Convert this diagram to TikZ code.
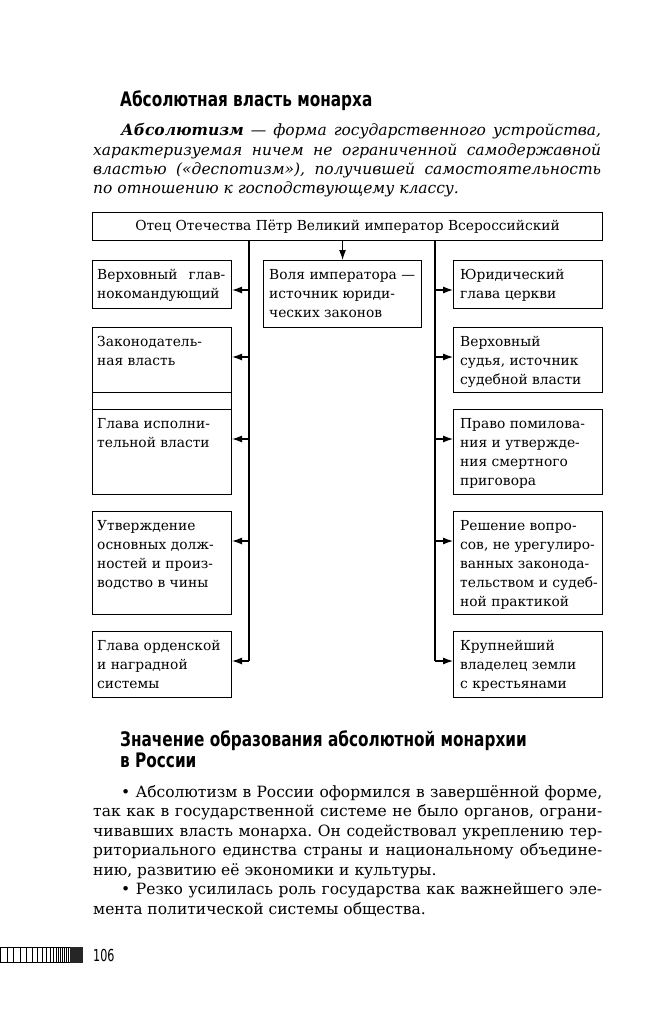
\documentclass[tikz,border=0pt]{standalone}
\usepackage{fontspec}
\setmainfont{DejaVu Serif}
\newfontfamily\hd{DejaVu Sans Condensed}[FakeStretch=0.85]
\newfontfamily\pgnum{DejaVu Sans Condensed}[FakeStretch=0.75]
\usetikzlibrary{arrows.meta,calc}
\newcommand\jline[2]{\makebox[#1pt][s]{#2}}
\frenchspacing
\begin{document}
\begin{tikzpicture}[x=1pt,y=-1pt,
  box/.style={draw, line width=1.1pt, inner sep=0pt, anchor=north west, rectangle},
  btxt/.style={anchor=base west, inner sep=0pt, font=\fontsize{13.8}{19}\selectfont},
  ptxt/.style={anchor=base west, inner sep=0pt, font=\fontsize{15.5}{19}\selectfont},
  itxt/.style={anchor=base west, inner sep=0pt, font=\fontsize{15.5}{19}\selectfont\itshape},
  head/.style={anchor=base west, inner sep=0pt, font=\hd\bfseries\fontsize{20}{21}\selectfont},
  arr/.style={line width=1.1pt, -{Latex[length=10pt,width=7pt]}},
  conn/.style={line width=1.1pt}]
\fill[white] (0,0) rectangle (660,1024);
\useasboundingbox (0,0) rectangle (660,1024);

% heading 1 and italic definition
\node[head] (h1) at (120,107) {Абсолютная власть монарха};
\node[itxt] (i1) at (121,136) {\jline{480}{\textbf{Абсолютизм} — форма государственного устройства,}};
\node[itxt] (i2) at (93,155.5) {\jline{508}{характеризуемая ничем не ограниченной самодержавной}};
\node[itxt] (i3) at (93,175) {\jline{508}{властью («деспотизм»), получившей самостоятельность}};
\node[itxt] (i4) at (93,194) {по отношению к господствующему классу.};

% boxes
\node[box, minimum width=510pt, minimum height=28pt, font=\fontsize{13.8}{19}\selectfont] (top) at (92,212) {Отец Отечества Пётр Великий император Всероссийский};
\node[box, minimum width=139pt, minimum height=48pt] (l1) at (92,260) {};
\node[box, minimum width=158pt, minimum height=67pt] (c1) at (263,260) {};
\node[box, minimum width=149pt, minimum height=48pt] (r1) at (453,260) {};
\node[box, minimum width=139pt, minimum height=65pt] (l2) at (92,327) {};
\node[box, minimum width=139pt, minimum height=17pt] (lg) at (92,392) {};
\node[box, minimum width=139pt, minimum height=85pt] (l3) at (92,409) {};
\node[box, minimum width=149pt, minimum height=65pt] (r2) at (453,327) {};
\node[box, minimum width=149pt, minimum height=85pt] (r3) at (453,409) {};
\node[box, minimum width=139pt, minimum height=103pt] (l4) at (92,511) {};
\node[box, minimum width=149pt, minimum height=103pt] (r4) at (453,511) {};
\node[box, minimum width=139pt, minimum height=66pt] (l5) at (92,631) {};
\node[box, minimum width=149pt, minimum height=66pt] (r5) at (453,631) {};

% box texts
\node[btxt] (l1t) at ($(l1.north west)+(5,19)$) {\parbox[t]{132pt}{\raggedright\jline{128}{Верховный глав-}\\нокомандующий}};
\node[btxt] (c1t) at ($(c1.north west)+(6,19)$) {\parbox[t]{150pt}{\raggedright Воля императора —\\источник юриди-\\ческих законов}};
\node[btxt] (r1t) at ($(r1.north west)+(7,19)$) {\parbox[t]{140pt}{\raggedright Юридический\\глава церкви}};
\node[btxt] (l2t) at ($(l2.north west)+(5,19)$) {\parbox[t]{132pt}{\raggedright Законодатель-\\ная власть}};
\node[btxt] (l3t) at ($(l3.north west)+(5,19)$) {\parbox[t]{132pt}{\raggedright Глава исполни-\\тельной власти}};
\node[btxt] (r2t) at ($(r2.north west)+(7,19)$) {\parbox[t]{140pt}{\raggedright Верховный\\судья, источник\\судебной власти}};
\node[btxt] (r3t) at ($(r3.north west)+(7,19)$) {\parbox[t]{140pt}{\raggedright Право помилова-\\ния и утвержде-\\ния смертного\\приговора}};
\node[btxt] (l4t) at ($(l4.north west)+(5,19)$) {\parbox[t]{132pt}{\raggedright Утверждение\\основных долж-\\ностей и произ-\\водство в чины}};
\node[btxt] (r4t) at ($(r4.north west)+(7,19)$) {\parbox[t]{140pt}{\raggedright Решение вопро-\\сов, не урегулиро-\\ванных законода-\\тельством и судеб-\\ной практикой}};
\node[btxt] (l5t) at ($(l5.north west)+(5,19)$) {\parbox[t]{132pt}{\raggedright Глава орденской\\и наградной\\системы}};
\node[btxt] (r5t) at ($(r5.north west)+(7,19)$) {\parbox[t]{140pt}{\raggedright Крупнейший\\владелец земли\\с крестьянами}};

% connectors
\coordinate (vL) at (249,250);
\coordinate (vR) at (435,250);
\foreach \b in {l1,l2,l3,l4,l5}{
  \coordinate (a\b) at ($(\b.north east)+(0,30)$);
  \draw[arr] (vL |- a\b) -- (a\b);
}
\foreach \b in {r1,r2,r3,r4,r5}{
  \coordinate (a\b) at ($(\b.north west)+(0,30)$);
  \draw[arr] (vR |- a\b) -- (a\b);
}
\draw[conn] (vL |- top.south) -- (vL |- al5);
\draw[conn] (vR |- top.south) -- (vR |- ar5);
\draw[arr] (top.south -| c1.north) -- (c1.north);

% heading 2 and text
\node[head] (h2a) at (120,746) {Значение образования абсолютной монархии};
\node[head] (h2b) at (120,767) {в России};
\node[ptxt] (p1) at (121,797) {\jline{481}{• Абсолютизм в России оформился в завершённой форме,}};
\node[ptxt] (p2) at (93,816.5) {\jline{509}{так как в государственной системе не было органов, ограни-}};
\node[ptxt] (p3) at (93,836) {\jline{509}{чивавших власть монарха. Он содействовал укреплению тер-}};
\node[ptxt] (p4) at (93,855.5) {\jline{509}{риториального единства страны и национальному объедине-}};
\node[ptxt] (p5) at (93,875) {нию, развитию её экономики и культуры.};
\node[ptxt] (p6) at (121,894.5) {\jline{481}{• Резко усилилась роль государства как важнейшего эле-}};
\node[ptxt] (p7) at (93,914) {мента политической системы общества.};

% page strip and number
\draw[line width=0.8pt] (0,947.5) -- (83,947.5) (0,962.5) -- (83,962.5);
\foreach \x in {0.5,7,13,20,26,32,37,42,46,50,53,56,58,60,62,64,66,68}{
  \draw[line width=0.8pt] (\x,947.5) -- (\x,962.5);
}
\fill[black!85] (70,947) rectangle (83,963);
\node[anchor=base west, inner sep=0pt, font=\pgnum\fontsize{16.5}{16}\selectfont] (pg) at (93,961) {106};
\end{tikzpicture}
\end{document}
